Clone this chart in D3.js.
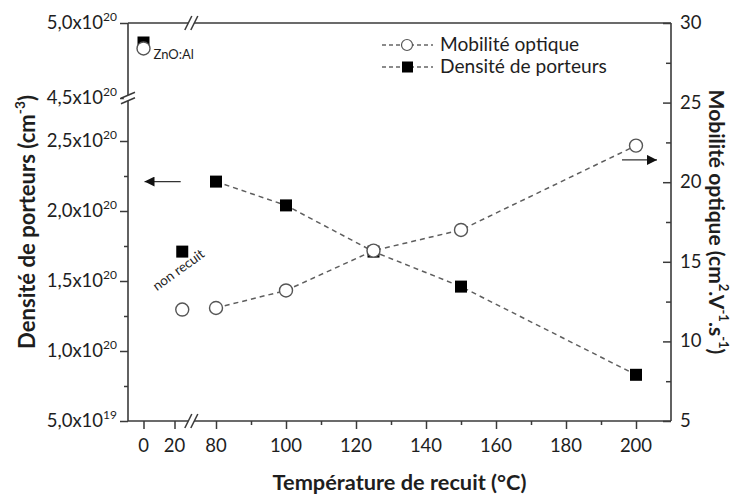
<!DOCTYPE html>
<html><head><meta charset="utf-8">
<script src="https://cdn.jsdelivr.net/npm/d3@7/dist/d3.min.js"></script>
<style>body{margin:0;background:#fff}svg{display:block}text{font-family:Lato,"Open Sans",sans-serif;fill:#1e1e1e}</style>
</head><body><svg id="c" width="734" height="498"></svg>
<script>
// ---- data ----
const temps    = [0, 25, 80, 100, 125, 150, 200];
const mobility = [28.4, 12.0, 12.1, 13.2, 15.7, 17.0, 22.3];
const density  = [4.87e20, 1.71e20, 2.21e20, 2.04e20, 1.71e20, 1.46e20, 0.83e20];
const connectedFrom = 2; // series lines drawn from 80 °C onward
const xMajor = [0, 20, 80, 100, 120, 140, 160, 180, 200];
const xMinor = [90, 110, 130, 150, 170, 190];
const yLeftMajor = [5e19, 1e20, 1.5e20, 2e20, 2.5e20, 4.5e20, 5e20];
const yLeftMant  = ["5,0", "1,0", "1,5", "2,0", "2,5", "4,5", "5,0"];
const yLeftExp   = ["19", "20", "20", "20", "20", "20", "20"];
const yLeftMinor = [0.75e20, 1.25e20, 1.75e20, 2.25e20];
const yRightMajor = [5, 10, 15, 20, 25, 30];
const yRightMinor = [7.5, 12.5, 17.5, 22.5, 27.5];

const L = 128, R = 671, T = 23, B = 421;
const svg = d3.select("#c");
const axisCol = "#3a3a3a";

function fit(sel, target){
  sel.each(function(){
    const fs = parseFloat(this.getAttribute("font-size"));
    const w = this.getComputedTextLength();
    if (w > 0) this.setAttribute("font-size", (fs * target / w).toFixed(2));
  });
}

// piecewise (broken) scales
const x = d3.scaleLinear().domain([-10, 30, 75, 210]).range([L, 190, 198.5, R]);
const yL = d3.scaleLinear().domain([0.5e20, 2.8e20, 4.5e20, 5e20]).range([B, 99, 98, T]);
const yR = d3.scaleLinear().domain([5, 30]).range([B, T]);

function styleAxis(g){ g.select(".domain").remove(); g.selectAll("line").attr("stroke", axisCol).attr("stroke-width", 1.5); g.selectAll("text").remove(); }

// frame
const frame = svg.append("g").attr("stroke", axisCol).attr("stroke-width", 1.6).attr("fill","none");
frame.append("line").attr("x1",L).attr("x2",R).attr("y1",T).attr("y2",T);
frame.append("line").attr("x1",L).attr("x2",R).attr("y1",B).attr("y2",B);
frame.append("line").attr("x1",L).attr("x2",L).attr("y1",T).attr("y2",B);
frame.append("line").attr("x1",R).attr("x2",R).attr("y1",T).attr("y2",B);

// bottom axis
svg.append("g").attr("transform",`translate(0,${B})`).call(d3.axisBottom(x).tickValues(xMajor).tickSize(8)).call(styleAxis);
svg.append("g").attr("transform",`translate(0,${B})`).call(d3.axisBottom(x).tickValues(xMinor).tickSize(4)).call(styleAxis);
svg.append("g").selectAll("text").data(xMajor).join("text")
  .attr("x", d=>x(d)).attr("y", B+31).attr("text-anchor","middle").attr("font-size",18.5).text(d=>d);

// left axis
svg.append("g").attr("transform",`translate(${L},0)`).call(d3.axisLeft(yL).tickValues(yLeftMajor).tickSize(8)).call(styleAxis);
svg.append("g").attr("transform",`translate(${L},0)`).call(d3.axisLeft(yL).tickValues(yLeftMinor).tickSize(4)).call(styleAxis);
const lt = svg.append("g").selectAll("text").data(yLeftMajor).join("text")
  .attr("x", L-11).attr("y", d=>yL(d)+6).attr("text-anchor","end").attr("font-size",18.5);
lt.append("tspan").text((d,i)=>yLeftMant[i]+"x10");
lt.append("tspan").attr("font-size",12).attr("dy",-8).text((d,i)=>yLeftExp[i]);

// right axis (ticks inward)
svg.append("g").attr("transform",`translate(${R},0)`).call(d3.axisLeft(yR).tickValues(yRightMajor).tickSize(8)).call(styleAxis);
svg.append("g").attr("transform",`translate(${R},0)`).call(d3.axisLeft(yR).tickValues(yRightMinor).tickSize(5)).call(styleAxis);
svg.append("g").selectAll("text").data(yRightMajor).join("text")
  .attr("x", R+9).attr("y", d=>yR(d)+6).attr("font-size",18.5).text(d=>d);

// axis breaks
function brk(cx, cy, vertical){
  const g = svg.append("g").attr("transform",`translate(${cx},${cy})`);
  if(vertical){
    g.append("rect").attr("x",-4).attr("y",-2.5).attr("width",8).attr("height",5).attr("fill","#fff").attr("transform","rotate(-25)");
    [-2.8,2.8].forEach(o=>g.append("line").attr("x1",-7).attr("x2",7).attr("y1",o+3).attr("y2",o-3).attr("stroke",axisCol).attr("stroke-width",1.5));
  } else {
    g.append("rect").attr("x",-2.5).attr("y",-4).attr("width",5).attr("height",8).attr("fill","#fff").attr("transform","rotate(25)");
    [-3,3].forEach(o=>g.append("line").attr("x1",o-3.5).attr("x2",o+3.5).attr("y1",7).attr("y2",-7).attr("stroke",axisCol).attr("stroke-width",1.5));
  }
}
brk(x(37), T, false);
brk(x(37), B, false);
brk(L, yL(4.5e20), true);

// lines
const idx = d3.range(connectedFrom, temps.length);
const dash = "5,4";
svg.append("path").attr("fill","none").attr("stroke","#5e5e5e").attr("stroke-width",1.5).attr("stroke-dasharray",dash)
  .attr("d", d3.line().x(i=>x(temps[i])).y(i=>yL(density[i]))(idx));
svg.append("path").attr("fill","none").attr("stroke","#5e5e5e").attr("stroke-width",1.5).attr("stroke-dasharray",dash)
  .attr("d", d3.line().x(i=>x(temps[i])).y(i=>yR(mobility[i]))(idx));

// markers: squares then circles
const s = 12;
svg.append("g").selectAll("rect").data(temps).join("rect")
  .attr("x",(d,i)=>x(d)-s/2).attr("y",(d,i)=>yL(density[i])-s/2).attr("width",s).attr("height",s).attr("fill","#000");
svg.append("g").selectAll("circle").data(temps).join("circle")
  .attr("cx",d=>x(d)).attr("cy",(d,i)=>yR(mobility[i])).attr("r",6.5)
  .attr("fill","#fff").attr("stroke","#555").attr("stroke-width",1.4);

// annotations
svg.append("text").attr("x",x(0)+10).attr("y",yR(mobility[0])+11).attr("font-size",13).text("ZnO:Al");
svg.append("text").attr("transform",`translate(${x(25)-1},${yL(density[1])+22}) rotate(-36)`).attr("text-anchor","middle")
  .attr("font-size",13.5).text("non recuit");

// arrows
svg.append("defs").append("marker").attr("id","ah").attr("viewBox","0 0 10 10").attr("refX",10).attr("refY",5)
  .attr("markerWidth",10).attr("markerHeight",10).attr("markerUnits","userSpaceOnUse").attr("orient","auto")
  .append("path").attr("d","M0,0L10,5L0,10Z").attr("fill","#111");
svg.append("line").attr("x1",x(24)).attr("x2",x(0)+1).attr("y1",yL(2.21e20)).attr("y2",yL(2.21e20))
  .attr("stroke","#333").attr("stroke-width",1.3).attr("marker-end","url(#ah)");
svg.append("line").attr("x1",x(196)).attr("x2",x(206)).attr("y1",yR(21.4)).attr("y2",yR(21.4))
  .attr("stroke","#333").attr("stroke-width",1.3).attr("marker-end","url(#ah)");

// legend
const legend = [{label:"Mobilité optique", type:"circle"}, {label:"Densité de porteurs", type:"square"}];
const lg = svg.append("g").selectAll("g").data(legend).join("g").attr("transform",(d,i)=>`translate(382,${45+i*22})`);
lg.append("line").attr("x1",0).attr("x2",51).attr("stroke","#666").attr("stroke-width",1.3).attr("stroke-dasharray","4,3");
lg.filter(d=>d.type==="circle").append("circle").attr("cx",25).attr("r",5.5).attr("fill","#fff").attr("stroke","#555").attr("stroke-width",1.2);
lg.filter(d=>d.type==="square").append("rect").attr("x",20).attr("y",-5.5).attr("width",11).attr("height",11).attr("fill","#000");
const lgText = lg.append("text").attr("x",58).attr("y",6).attr("font-size",17).text(d=>d.label);
{
  const n = lgText.filter(d=>d.type==="square").node();
  const fs = 17 * 167 / n.getComputedTextLength();
  lgText.attr("font-size", fs.toFixed(2));
}

// axis titles
const xt = svg.append("text").attr("x",(L+R)/2).attr("y",490).attr("text-anchor","middle").attr("font-size",18).attr("font-weight","bold")
  .text("Température de recuit (°C)");
fit(xt, 254);
const tl = svg.append("text").attr("transform",`translate(35,${(T+B)/2}) rotate(-90)`).attr("text-anchor","middle").attr("font-size",18).attr("font-weight","bold");
tl.append("tspan").text("Densité de porteurs (cm");
tl.append("tspan").attr("font-size","0.62em").attr("dy","-0.75em").text("-3");
tl.append("tspan").attr("dy","0.465em").text(")");
fit(tl, 254);
const tr = svg.append("text").attr("transform",`translate(709,${(T+B)/2}) rotate(90)`).attr("text-anchor","middle").attr("font-size",18).attr("font-weight","bold");
tr.append("tspan").text("Mobilité optique (cm");
tr.append("tspan").attr("font-size","0.62em").attr("dy","-0.75em").text("2");
tr.append("tspan").attr("dy","0.465em").text(".V");
tr.append("tspan").attr("font-size","0.62em").attr("dy","-0.75em").text("-1");
tr.append("tspan").attr("dy","0.465em").text(".s");
tr.append("tspan").attr("font-size","0.62em").attr("dy","-0.75em").text("-1");
tr.append("tspan").attr("dy","0.465em").text(")");
fit(tr, 265);
</script></body></html>
